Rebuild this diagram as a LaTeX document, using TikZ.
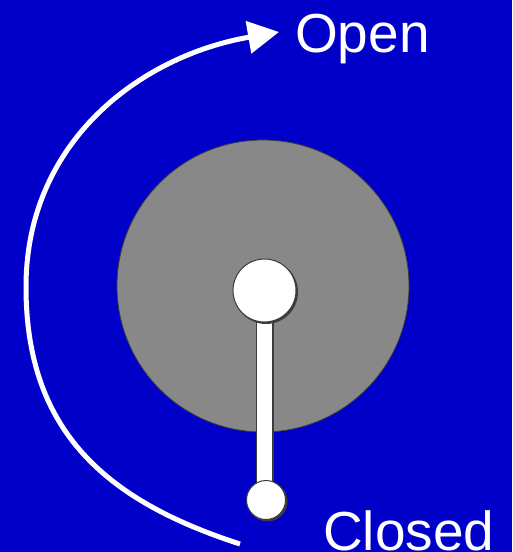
\documentclass[tikz,border=0pt]{standalone}
\usepackage{fontspec}
\setmainfont{Liberation Sans}
\usetikzlibrary{arrows.meta}
\definecolor{bgblue}{RGB}{0,0,200}
\definecolor{discgray}{RGB}{136,136,136}
\definecolor{edgegray}{RGB}{60,60,60}
\tikzset{
  knob/.style={fill=white, draw=edgegray, line width=1pt},
  shadow/.style={fill=edgegray},
  label/.style={anchor=base west, inner sep=0pt, text=white, font=\fontsize{55}{55}\selectfont},
  motion/.style={draw=white, line width=5pt, -{Triangle[length=31pt, width=32pt]}}
}
\begin{document}
\begin{tikzpicture}[x=1pt, y=-1pt]
  \useasboundingbox (0,0) rectangle (512,552);
  \clip (0,0) rectangle (512,552);
  \fill[bgblue] (0,0) rectangle (512,552);
  % dial
  \draw[fill=discgray, draw=edgegray, line width=0.8pt] (263,286) circle[radius=146];
  % handle
  \fill[shadow] (257.5,312) rectangle (274,486);
  \draw[knob] (256,312) rectangle (272,485);
  \fill[shadow] (267.5,501.5) circle[radius=20];
  \draw[knob] (266,500) circle[radius=19.5];
  \fill[shadow] (266,292) circle[radius=32];
  \draw[knob] (264.5,290.5) circle[radius=31.5];
  % motion arc
  \coordinate (closedEnd) at (240,544);
  \coordinate (leftMost) at (26,287);
  \coordinate (openEnd) at (279,32);
  \path[motion] (closedEnd) .. controls (107,501) and (26,432) .. (leftMost)
     .. controls (26,142) and (140,56) .. (openEnd);
  % labels
  \node[label] (open) at (295,52) {Open};
  \node[label] (closed) at (323,550) {Closed};
\end{tikzpicture}
\end{document}
